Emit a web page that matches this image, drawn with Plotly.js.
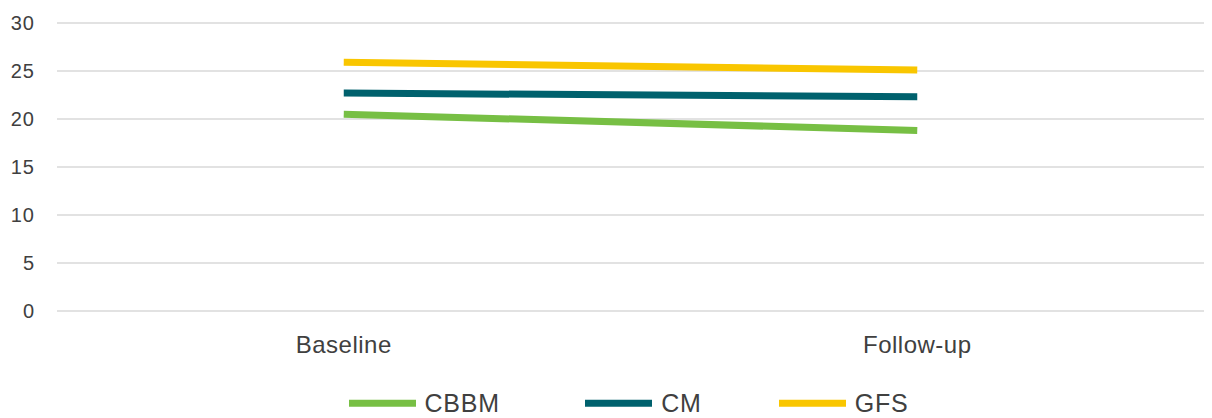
<!DOCTYPE html>
<html>
<head>
<meta charset="utf-8">
<script src="https://cdn.plot.ly/plotly-3.0.1.min.js"></script>
<style>
  html, body { margin: 0; padding: 0; background: #ffffff; }
  #chart { width: 1212px; height: 418px; }
  #chart .xtick text { letter-spacing: 0.5px; }
  #chart .ytick text { letter-spacing: 1px; }
  #chart .annotation-text { letter-spacing: 0.8px; }
</style>
</head>
<body>
<div id="chart"></div>
<script>
// Time points on the category axis
const timepoints = ['Baseline', 'Follow-up'];

// Series values per time point
const seriesNames = ['CBBM', 'CM', 'GFS'];
const cbbm = [20.5, 18.8];
const cm = [22.7, 22.3];
const gfs = [25.9, 25.1];

// Y axis ticks
const yTicks = [0, 5, 10, 15, 20, 25, 30];

const colors = ['#77BF44', '#00616D', '#F9C600'];
const seriesValues = [cbbm, cm, gfs];

const W = 1212, H = 418;
const margin = { l: 57, r: 8, t: 19.6, b: 103.6 };
const plotW = W - margin.l - margin.r;
const plotH = H - margin.t - margin.b;

const textColor = '#404040';
const fontFamily = 'Liberation Sans, Arial, sans-serif';

const traces = seriesNames.map((name, i) => ({
  type: 'scatter',
  mode: 'lines',
  name: name,
  x: timepoints,
  y: seriesValues[i],
  line: { color: colors[i], width: 7 },
  showlegend: false,
  hoverinfo: 'x+y+name'
}));

// Legend drawn as a row of line swatches and labels below the axis
const legendLeft = [349, 585, 779];
const swatchLen = 67;
const legendYpx = 404;
const toPaperX = px => (px - margin.l) / plotW;
const toPaperY = py => (margin.t + plotH - py) / plotH;

const shapes = seriesNames.map((name, i) => ({
  type: 'line',
  xref: 'paper', yref: 'paper',
  x0: toPaperX(legendLeft[i]), x1: toPaperX(legendLeft[i] + swatchLen),
  y0: toPaperY(legendYpx), y1: toPaperY(legendYpx),
  line: { color: colors[i], width: 7 }
}));

const annotations = seriesNames.map((name, i) => ({
  xref: 'paper', yref: 'paper',
  x: toPaperX(legendLeft[i] + swatchLen + 8),
  y: toPaperY(legendYpx),
  xanchor: 'left', yanchor: 'middle',
  text: name,
  showarrow: false,
  font: { family: fontFamily, size: 25, color: textColor }
}));

const layout = {
  width: W,
  height: H,
  margin: margin,
  paper_bgcolor: '#ffffff',
  plot_bgcolor: '#ffffff',
  font: { family: fontFamily, color: textColor },
  xaxis: {
    type: 'category',
    categoryorder: 'array',
    categoryarray: timepoints,
    range: [-0.5, timepoints.length - 0.5],
    showgrid: false,
    zeroline: false,
    showline: false,
    ticks: 'outside',
    ticklen: 9,
    tickcolor: 'rgba(0,0,0,0)',
    tickfont: { family: fontFamily, size: 24, color: textColor },
    fixedrange: true
  },
  yaxis: {
    // small padding so the 0 and 30 gridlines are drawn
    range: [-0.3, 30.3],
    tickvals: yTicks,
    ticktext: yTicks.map(String),
    showgrid: true,
    gridcolor: '#e2e2e2',
    gridwidth: 2,
    zeroline: false,
    showline: false,
    ticks: 'outside',
    ticklen: 17,
    tickcolor: 'rgba(0,0,0,0)',
    tickfont: { family: fontFamily, size: 20, color: textColor },
    fixedrange: true
  },
  shapes: shapes,
  annotations: annotations,
  showlegend: false
};

Plotly.newPlot('chart', traces, layout, { displayModeBar: false, staticPlot: true });
</script>
</body>
</html>
